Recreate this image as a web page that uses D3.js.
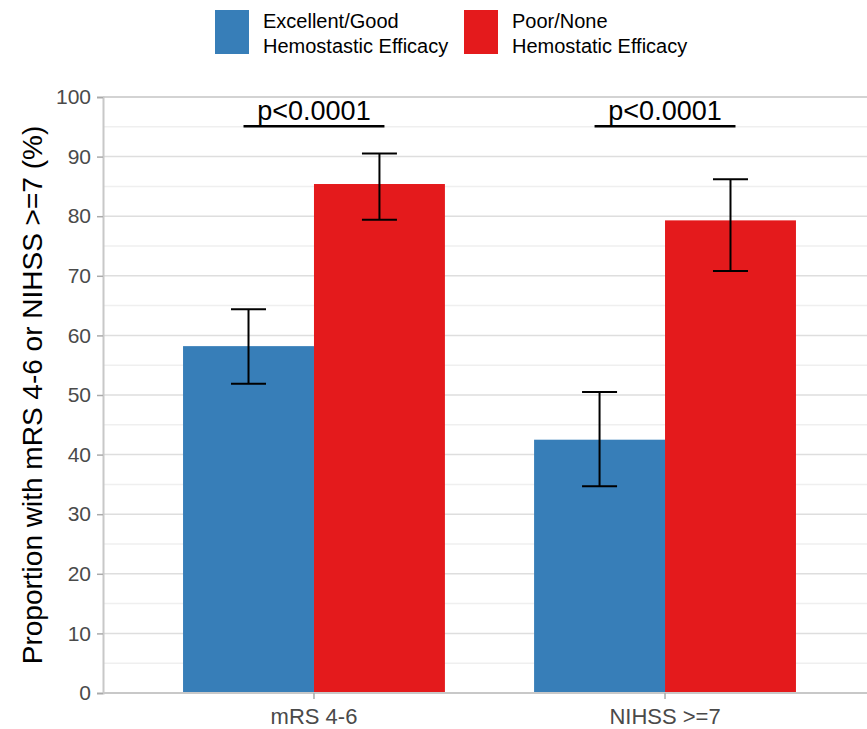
<!DOCTYPE html>
<html>
<head>
<meta charset="utf-8">
<script src="https://cdn.jsdelivr.net/npm/d3@7"></script>
<style>
  body { margin: 0; background: #fff; }
  svg { display: block; font-family: "Liberation Sans", Arial, sans-serif; }
</style>
</head>
<body>
<svg id="chart" width="867" height="729"></svg>
<script>
// data
const categories = ["mRS 4-6", "NIHSS >=7"];
const groups = ["Excellent/Good\nHemostastic Efficacy", "Poor/None\nHemostatic Efficacy"];
const colors = ["#377eb8", "#e41a1c"];
const goodValues = [58.2, 42.5];
const goodLower = [51.9, 34.7];
const goodUpper = [64.4, 50.5];
const poorValues = [85.4, 79.3];
const poorLower = [79.4, 70.8];
const poorUpper = [90.5, 86.2];
const pLabels = ["p<0.0001", "p<0.0001"];
const yTicks = [0, 10, 20, 30, 40, 50, 60, 70, 80, 90, 100];

const width = 867;
const height = 729;
const margin = { top: 97, left: 103, bottom: 36 };
const plotBottom = height - margin.bottom;

const svg = d3.select("#chart");

const x = d3.scaleBand()
    .domain(categories)
    .range([margin.left, 876])
    .paddingInner(0.254)
    .paddingOuter(0.228);

const x1 = d3.scaleBand()
    .domain([0, 1])
    .range([0, x.bandwidth()]);

const y = d3.scaleLinear()
    .domain([0, 100])
    .range([plotBottom, margin.top]);

// gridlines (minor every 5, major every 10)
const minor = d3.range(5, 100, 10);
svg.append("g")
    .selectAll("line")
    .data(minor)
    .join("line")
    .attr("x1", margin.left).attr("x2", width)
    .attr("y1", d => y(d)).attr("y2", d => y(d))
    .attr("stroke", "#efefef")
    .attr("stroke-width", 1.5);

svg.append("g")
    .selectAll("line")
    .data(yTicks.filter(d => d > 0))
    .join("line")
    .attr("x1", margin.left).attr("x2", width)
    .attr("y1", d => y(d)).attr("y2", d => y(d))
    .attr("stroke", d => d === 100 ? "#c4c4c4" : "#dedede")
    .attr("stroke-width", 1.5);

// bars
const rows = categories.map((c, i) => ({
    cat: c,
    p: pLabels[i],
    bars: [
        { g: 0, v: goodValues[i], lo: goodLower[i], hi: goodUpper[i] },
        { g: 1, v: poorValues[i], lo: poorLower[i], hi: poorUpper[i] }
    ]
}));

const cat = svg.append("g")
    .selectAll("g")
    .data(rows)
    .join("g")
    .attr("transform", d => `translate(${x(d.cat)},0)`);

cat.selectAll("rect")
    .data(d => d.bars)
    .join("rect")
    .attr("x", d => x1(d.g))
    .attr("width", x1.bandwidth())
    .attr("y", d => y(d.v))
    .attr("height", d => y(0) - y(d.v))
    .attr("fill", d => colors[d.g]);

// error bars
const capW = 35;
const mid = d => x1(d.g) + x1.bandwidth() / 2;
const err = cat.selectAll("g.err")
    .data(d => d.bars)
    .join("g")
    .attr("class", "err")
    .attr("stroke", "#000")
    .attr("stroke-width", 2);

err.append("line")
    .attr("x1", mid).attr("x2", mid)
    .attr("y1", d => y(d.lo))
    .attr("y2", d => y(d.hi));
err.append("line")
    .attr("x1", d => mid(d) - capW / 2)
    .attr("x2", d => mid(d) + capW / 2)
    .attr("y1", d => y(d.hi)).attr("y2", d => y(d.hi));
err.append("line")
    .attr("x1", d => mid(d) - capW / 2)
    .attr("x2", d => mid(d) + capW / 2)
    .attr("y1", d => y(d.lo)).attr("y2", d => y(d.lo));

// p-value labels with underline
cat.append("line")
    .attr("x1", x1.bandwidth() / 2 - 5)
    .attr("x2", x1.bandwidth() * 1.5 + 5)
    .attr("y1", y(95.1)).attr("y2", y(95.1))
    .attr("stroke", "#000")
    .attr("stroke-width", 2.5);

cat.append("text")
    .attr("x", x.bandwidth() / 2)
    .attr("y", y(96.2))
    .attr("text-anchor", "middle")
    .attr("font-size", 27)
    .attr("fill", "#000")
    .text(d => d.p);

// y axis
const yAxis = svg.append("g")
    .attr("transform", `translate(${margin.left},0)`)
    .call(d3.axisLeft(y).tickValues(yTicks).tickSize(6).tickPadding(6));
yAxis.select(".domain").attr("stroke", "#c8c8c8").attr("stroke-width", 2);
yAxis.selectAll(".tick line").attr("stroke", "#aaa").attr("stroke-width", 1.5);
yAxis.selectAll(".tick text")
    .attr("font-size", 21)
    .attr("font-family", "Liberation Sans, Arial, sans-serif")
    .attr("fill", "#4a4a4a");

// x axis
const xAxis = svg.append("g")
    .attr("transform", `translate(0,${plotBottom})`)
    .call(d3.axisBottom(x).tickSize(6).tickPadding(9).tickSizeOuter(0));
xAxis.select(".domain").attr("d", `M${margin.left},0H${width}`)
    .attr("stroke", "#c8c8c8").attr("stroke-width", 2);
xAxis.selectAll(".tick line").attr("stroke", "#aaa").attr("stroke-width", 1.5);
xAxis.selectAll(".tick text")
    .attr("font-size", 22)
    .attr("font-family", "Liberation Sans, Arial, sans-serif")
    .attr("fill", "#4a4a4a");

// y title
svg.append("text")
    .attr("transform", `translate(42,${(margin.top + plotBottom) / 2}) rotate(-90)`)
    .attr("text-anchor", "middle")
    .attr("font-size", 28)
    .attr("fill", "#000")
    .text("Proportion with mRS 4-6 or NIHSS >=7 (%)");

// legend
const legendX = [215, 464];
const legend = svg.append("g")
    .selectAll("g")
    .data(groups)
    .join("g")
    .attr("transform", (d, i) => `translate(${legendX[i]},10)`);

legend.append("rect")
    .attr("width", 34)
    .attr("height", 44)
    .attr("fill", (d, i) => colors[i]);

legend.append("text")
    .attr("x", 48)
    .attr("font-size", 20)
    .attr("fill", "#000")
    .selectAll("tspan")
    .data(d => d.split("\n"))
    .join("tspan")
    .attr("x", 48)
    .attr("y", (d, i) => 18 + i * 25)
    .text(d => d);
</script>
</body>
</html>
